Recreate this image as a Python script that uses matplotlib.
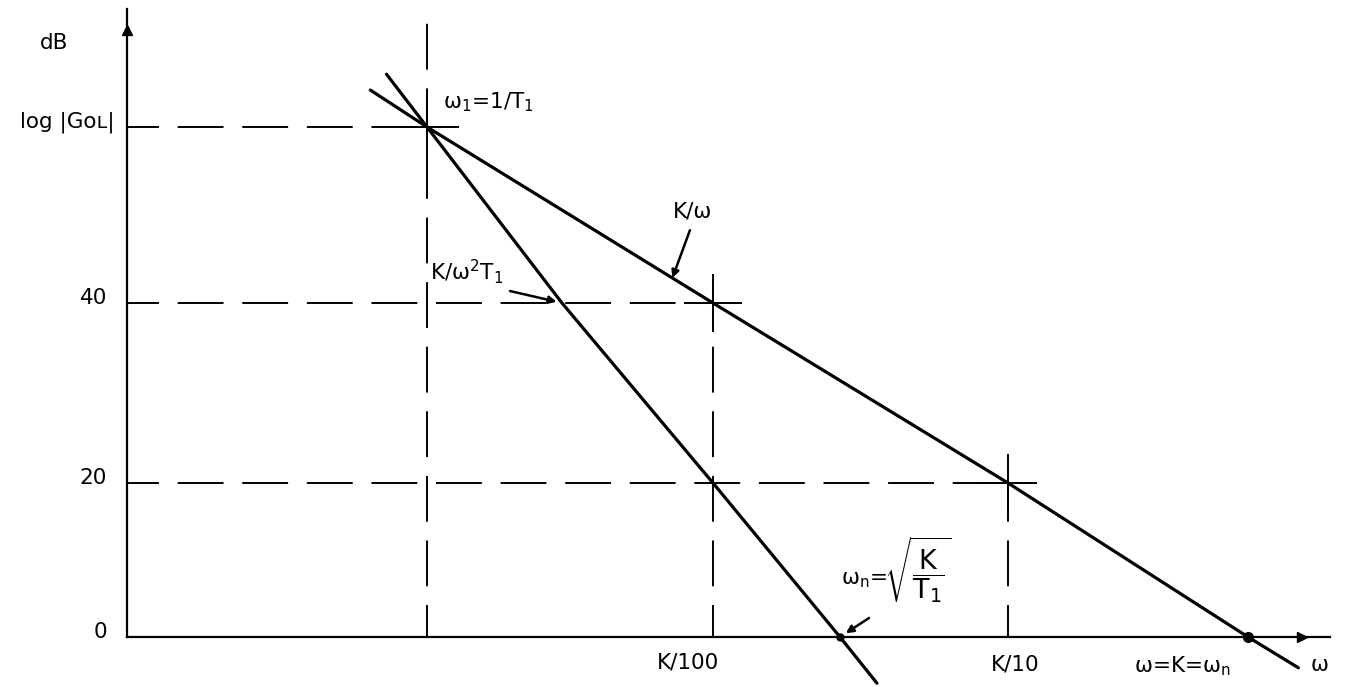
import numpy as np
import matplotlib.pyplot as plt

plt.rcParams['font.family'] = ['DejaVu Sans']
plt.rcParams['mathtext.fontset'] = 'custom'
plt.rcParams['mathtext.rm'] = 'DejaVu Sans'
plt.rcParams['mathtext.it'] = 'DejaVu Sans'
plt.rcParams['lines.scale_dashes'] = False

# x: log10(w/K) in decades, y: magnitude in dB
# asymptote K/w  (-20 dB/dec)
kw_dec = [-3.21, -3.0, -2.0, -1.0, 0.0, 0.21]
kw_db = [64.2, 60.0, 40.0, 20.0, 0.0, -4.0]
# asymptote K/(w^2 T1)  (-40 dB/dec)
k2_dec = [-3.15, -3.0, -2.5, -2.0, -1.5, -1.39]
k2_db = [66.0, 60.0, 40.0, 20.0, 0.0, -6.0]

# construction lines: w1, K/100, K/10 and the levels they meet
guide_dec = [-3.0, -2.0, -1.0]
guide_db = [60.0, 40.0, 20.0]
ytick_db = [0.0, 20.0, 40.0, 60.0]
ytick_labels = ['0', '20', '40', 'log |Gᴏʟ|']
wc_dec, wc_db = 0.0, 0.0      # w = K = wc, crossover of K/w
wn_dec, wn_db = -1.5, 0.0     # wn = sqrt(K/T1)

# hand-drawn sketch: axes are not evenly spaced, so map through knots
x_knots = ([-3.0, -2.5, -2.0, -1.5, -1.0, 0.0], [427, 562, 713, 840, 1008, 1248])
y_knots = ([0.0, 20.0, 40.0, 60.0], [50, 204, 384, 560])


def knot_map(src, dst):
    src = np.asarray(src, float)
    dst = np.asarray(dst, float)
    lo = (dst[1] - dst[0]) / (src[1] - src[0])
    hi = (dst[-1] - dst[-2]) / (src[-1] - src[-2])

    def f(v):
        v = np.asarray(v, float)
        out = np.interp(v, src, dst)
        out = np.where(v < src[0], dst[0] + (v - src[0]) * lo, out)
        out = np.where(v > src[-1], dst[-1] + (v - src[-1]) * hi, out)
        return out
    return f


fig = plt.figure(figsize=(13.46, 6.87), dpi=100)
ax = fig.add_axes([0, 0, 1, 1])
ax.set_xscale('function', functions=(knot_map(*x_knots), knot_map(*x_knots[::-1])))
ax.set_yscale('function', functions=(knot_map(*y_knots), knot_map(*y_knots[::-1])))
xinv = knot_map(*x_knots[::-1])
yinv = knot_map(*y_knots[::-1])
ax.set_xlim(float(xinv(0)), float(xinv(1346)))
ax.set_ylim(float(yinv(0)), float(yinv(687)))
ax.axis('off')

# axes with arrows
x0 = float(xinv(127))
ytop = float(yinv(678))
xend = float(xinv(1330))
ax.plot([x0, x0], [0, ytop], color='black', lw=1.6)
ax.plot([x0, xend], [0, 0], color='black', lw=1.6)
ax.plot([x0], [float(yinv(657))], marker='^', ms=7, color='black')
ax.plot([float(xinv(1302))], [0], marker='>', ms=7, color='black')

# dashed construction lines
dash = dict(color='black', lw=1.4, ls=(10, (33, 13.5)))
for gx, gy in zip(guide_dec, guide_db):
    ax.plot([x0, gx + 0.12], [gy, gy], **dash)
    top = ytop if gy == max(guide_db) else gy + 2.3
    ax.plot([gx, gx], [0, top], **dash)
    ax.plot([gx], [gy], marker='+', ms=42, mew=1.4, color='black')

# asymptotes
ax.plot(kw_dec, kw_db, color='black', lw=2.3, solid_capstyle='round')
ax.plot(k2_dec, k2_db, color='black', lw=2.3, solid_capstyle='round')
ax.plot([wc_dec], [wc_db], 'o', ms=7, color='black')
ax.plot([wn_dec], [wn_db], 'o', ms=5, color='black')

fs = 15.5
opx = 'offset pixels'

# y labels
for yv, lab in zip(ytick_db, ytick_labels):
    dx = -12 if lab.startswith('log') else -20
    ax.annotate(lab, (x0, yv), xytext=(dx, 5), textcoords=opx,
                ha='right', va='center', fontsize=fs)
ax.annotate('dB', (x0, ytop), xytext=(-73, -34), textcoords=opx,
            ha='center', va='center', fontsize=fs)

# x labels
ax.annotate('K/100', (guide_dec[1], 0), xytext=(-25, -25), textcoords=opx,
            ha='center', va='center', fontsize=fs)
ax.annotate('K/10', (guide_dec[2], 0), xytext=(7, -28), textcoords=opx,
            ha='center', va='center', fontsize=fs)
ax.annotate('ω=K=ω$_n$', (wc_dec, 0), xytext=(-66, -29), textcoords=opx,
            ha='center', va='center', fontsize=fs)
ax.annotate('ω', (xend, 0), xytext=(-10, -28), textcoords=opx,
            ha='center', va='center', fontsize=fs)

# curve annotations
ax.annotate('ω$_1$=1/T$_1$', (guide_dec[0], guide_db[0]), xytext=(16, 25),
            textcoords=opx, ha='left', va='center', fontsize=fs)

arrow = dict(arrowstyle='-|>', lw=1.8, color='black', mutation_scale=11,
             shrinkA=0, shrinkB=1)
# K/w pointer
ax.annotate('', (-2.136, 42.7), xytext=(18, 49), textcoords=opx, arrowprops=arrow)
ax.annotate('K/ω', (-2.136, 42.7), xytext=(21, 68), textcoords=opx,
            ha='center', va='center', fontsize=fs)
# K/(w^2 T1) pointer
ax.annotate('', (k2_dec[2], k2_db[2]), xytext=(-52, 12), textcoords=opx,
            arrowprops=dict(arrow, shrinkB=4))
ax.annotate('K/ω$^2$T$_1$', (k2_dec[2], k2_db[2]), xytext=(-132, 31),
            textcoords=opx, ha='left', va='center', fontsize=fs)
# wn pointer
ax.annotate('', (wn_dec, wn_db), xytext=(29, 19), textcoords=opx,
            arrowprops=dict(arrow, shrinkB=5))
ax.annotate('ω$_n$=', (wn_dec, wn_db), xytext=(1, 57), textcoords=opx,
            ha='left', va='center', fontsize=fs)
ax.annotate(r'$\sqrt{\dfrac{K}{T_1}}$', (wn_dec, wn_db), xytext=(44, 67),
            textcoords=opx, ha='left', va='center', fontsize=19.5)

fig.savefig('out.png', dpi=100)
